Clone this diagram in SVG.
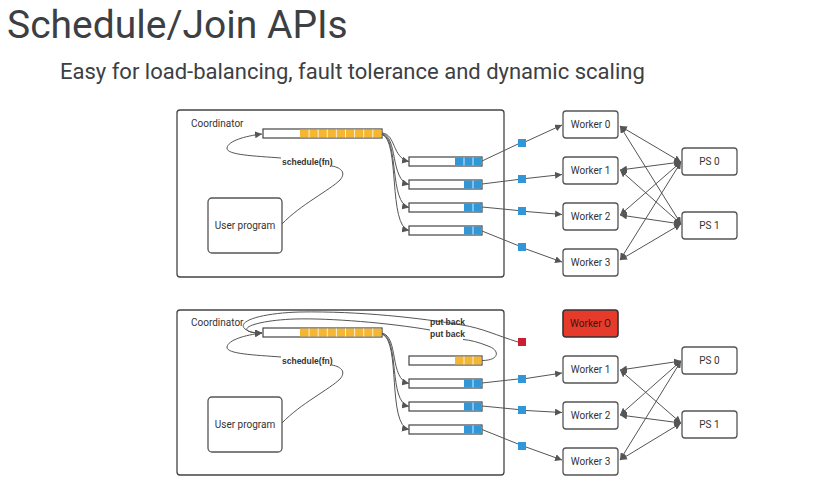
<svg xmlns="http://www.w3.org/2000/svg" width="814" height="498" viewBox="0 0 814 498">
<defs>
<marker id="ah" viewBox="0 0 10 10" refX="10" refY="5" markerWidth="7" markerHeight="7" markerUnits="userSpaceOnUse" orient="auto-start-reverse">
<path d="M0,0 L10,5 L0,10 z" fill="#555"/>
</marker>
<style>
.box{fill:#fff;stroke:#555;stroke-width:1.3}
.cont{fill:#fff;stroke:#444;stroke-width:1.3}
.q{fill:#fff;stroke:#444;stroke-width:1.2}
.or{fill:#f5b731}
.bl{fill:#3097d8}
.div{stroke:#fff;stroke-width:0.8}
.ln{fill:none;stroke:#555;stroke-width:1}
.arr{fill:none;stroke:#555;stroke-width:1;marker-end:url(#ah)}
.dbl{fill:none;stroke:#555;stroke-width:1;marker-end:url(#ah);marker-start:url(#ah)}
.t{font-family:Roboto,"Liberation Sans",sans-serif;font-size:10px;fill:#333}
.tc{font-family:Roboto,"Liberation Sans",sans-serif;font-size:10px;fill:#333;text-anchor:middle}
.tb{font-family:"Liberation Sans",Arial,sans-serif;font-size:8.5px;font-weight:bold;fill:#333}
.sq{fill:#3097d8}
</style>
</defs>
<rect width="814" height="498" fill="#fff"/>
<text x="7" y="38" font-family="Roboto,'Liberation Sans',sans-serif" font-size="39" fill="#3c4043">Schedule/Join APIs</text>
<text x="60" y="79" font-family="Roboto,'Liberation Sans',sans-serif" font-size="22" fill="#3c4043">Easy for load-balancing, fault tolerance and dynamic scaling</text>

<!-- TOP PANEL -->
<g id="coordinator-top">
<rect class="cont" x="177" y="110" width="327" height="167" rx="3"/>
<text class="t" x="191" y="127">Coordinator</text>
</g>
<g id="main-queue-top">
<rect class="q" x="263" y="129" width="119" height="9"/>
<rect class="or" x="300" y="129.6" width="81.4" height="7.8"/>
<path class="div" d="M309.1,129.6v7.8M318.2,129.6v7.8M327.3,129.6v7.8M336.4,129.6v7.8M345.5,129.6v7.8M354.6,129.6v7.8M363.7,129.6v7.8M372.8,129.6v7.8"/>
</g>
<g id="wq0-top">
<rect class="q" x="409" y="157" width="73" height="9"/>
<rect class="bl" x="455" y="157.6" width="26.4" height="7.8"/>
<path class="div" d="M464,157.6v7.8M473,157.6v7.8"/>
</g>
<g id="wq1-top">
<rect class="q" x="409" y="180" width="73" height="9"/>
<rect class="bl" x="464" y="180.6" width="17.4" height="7.8"/>
<path class="div" d="M473,180.6v7.8"/>
</g>
<g id="wq2-top">
<rect class="q" x="409" y="203" width="73" height="9"/>
<rect class="bl" x="464" y="203.6" width="17.4" height="7.8"/>
<path class="div" d="M473,203.6v7.8"/>
</g>
<g id="wq3-top">
<rect class="q" x="409" y="226" width="73" height="9"/>
<rect class="bl" x="464" y="226.6" width="17.4" height="7.8"/>
<path class="div" d="M473,226.6v7.8"/>
</g>
<g id="user-top">
<rect class="box" x="208" y="198" width="74" height="55" rx="4"/>
<text class="tc" x="245" y="228.5">User program</text>
</g>
<g id="worker0-top"><rect class="box" x="563" y="111" width="55" height="27" rx="3"/><text class="tc" x="590.5" y="128">Worker 0</text></g>
<g id="worker1-top"><rect class="box" x="563" y="157" width="55" height="27" rx="3"/><text class="tc" x="590.5" y="174">Worker 1</text></g>
<g id="worker2-top"><rect class="box" x="563" y="203" width="55" height="27" rx="3"/><text class="tc" x="590.5" y="220">Worker 2</text></g>
<g id="worker3-top"><rect class="box" x="563" y="249" width="55" height="27" rx="3"/><text class="tc" x="590.5" y="266">Worker 3</text></g>
<g id="ps0-top"><rect class="box" x="682" y="148" width="55" height="27" rx="3"/><text class="tc" x="709.5" y="165">PS 0</text></g>
<g id="ps1-top"><rect class="box" x="682" y="212" width="55" height="27" rx="3"/><text class="tc" x="709.5" y="229">PS 1</text></g>
<g id="tasks-top">
<rect class="sq" x="518" y="139" width="8" height="8"/>
<rect class="sq" x="518" y="175" width="8" height="8"/>
<rect class="sq" x="518" y="207" width="8" height="8"/>
<rect class="sq" x="518" y="243" width="8" height="8"/>
</g>

<g id="connectors-top">
<path class="ln" d="M282,224 C300,205 330,190 340,180 C346,173 342,168 332,166"/>
<text class="tb" x="282" y="165">schedule(fn)</text>
<path class="arr" d="M281,158 C255,156 226,155 227,148 C228,141 245,136 262,134"/>
<path class="arr" d="M382,133 C396,134 392,158 409,161.5"/>
<path class="arr" d="M382,133.5 C398,136 390,180 409,184.5"/>
<path class="arr" d="M382,134 C399,138 389,203 409,207.5"/>
<path class="arr" d="M382,134.5 C400,140 388,226 409,230.5"/>
<path class="ln" d="M482,161 L518,144"/><path class="arr" d="M526,141.5 L562,125"/>
<path class="ln" d="M482,184 L518,179.5"/><path class="arr" d="M526,178.5 L562,174.5"/>
<path class="ln" d="M482,207 L518,210.5"/><path class="arr" d="M526,211.5 L562,214.5"/>
<path class="ln" d="M482,231 L518,245.5"/><path class="arr" d="M526,249 L562,262"/>
<path class="dbl" d="M620,126 L681,162"/>
<path class="dbl" d="M620,126 L681,224"/>
<path class="dbl" d="M620,170 L681,162"/>
<path class="dbl" d="M620,170 L681,224"/>
<path class="dbl" d="M620,215 L681,162"/>
<path class="dbl" d="M620,215 L681,224"/>
<path class="dbl" d="M620,260 L681,162"/>
<path class="dbl" d="M620,260 L681,224"/>
</g>

<!-- BOTTOM PANEL -->
<g id="coordinator-bottom">
<rect class="cont" x="177" y="310" width="327" height="165" rx="3"/>
<text class="t" x="191" y="326">Coordinator</text>
</g>
<g id="main-queue-bottom">
<rect class="q" x="263" y="328" width="119" height="9"/>
<rect class="or" x="300" y="328.6" width="81.4" height="7.8"/>
<path class="div" d="M309.1,328.6v7.8M318.2,328.6v7.8M327.3,328.6v7.8M336.4,328.6v7.8M345.5,328.6v7.8M354.6,328.6v7.8M363.7,328.6v7.8M372.8,328.6v7.8"/>
</g>
<g id="wq0-bottom">
<rect class="q" x="409" y="356" width="73" height="9"/>
<rect class="or" x="455" y="356.6" width="26.4" height="7.8"/>
<path class="div" d="M464,356.6v7.8M473,356.6v7.8"/>
</g>
<g id="wq1-bottom">
<rect class="q" x="409" y="379" width="73" height="9"/>
<rect class="bl" x="464" y="379.6" width="17.4" height="7.8"/>
<path class="div" d="M473,379.6v7.8"/>
</g>
<g id="wq2-bottom">
<rect class="q" x="409" y="402" width="73" height="9"/>
<rect class="bl" x="464" y="402.6" width="17.4" height="7.8"/>
<path class="div" d="M473,402.6v7.8"/>
</g>
<g id="wq3-bottom">
<rect class="q" x="409" y="425" width="73" height="9"/>
<rect class="bl" x="464" y="425.6" width="17.4" height="7.8"/>
<path class="div" d="M473,425.6v7.8"/>
</g>
<g id="user-bottom">
<rect class="box" x="208" y="397" width="74" height="55" rx="4"/>
<text class="tc" x="245" y="427.5">User program</text>
</g>
<g id="worker0-bottom"><rect x="563" y="310" width="55" height="27" rx="3" fill="#e63b2b" stroke="#333" stroke-width="1.6"/><text class="tc" x="590.5" y="327" style="fill:#3a1512">Worker O</text></g>
<g id="worker1-bottom"><rect class="box" x="563" y="356" width="55" height="27" rx="3"/><text class="tc" x="590.5" y="373">Worker 1</text></g>
<g id="worker2-bottom"><rect class="box" x="563" y="402" width="55" height="27" rx="3"/><text class="tc" x="590.5" y="419">Worker 2</text></g>
<g id="worker3-bottom"><rect class="box" x="563" y="448" width="55" height="27" rx="3"/><text class="tc" x="590.5" y="465">Worker 3</text></g>
<g id="ps0-bottom"><rect class="box" x="682" y="347" width="55" height="27" rx="3"/><text class="tc" x="709.5" y="364">PS 0</text></g>
<g id="ps1-bottom"><rect class="box" x="682" y="411" width="55" height="27" rx="3"/><text class="tc" x="709.5" y="428">PS 1</text></g>
<g id="tasks-bottom">
<rect x="518" y="338" width="8" height="8" fill="#c8202f"/>
<rect class="sq" x="518" y="375" width="8" height="8"/>
<rect class="sq" x="518" y="406" width="8" height="8"/>
<rect class="sq" x="518" y="442" width="8" height="8"/>
</g>

<g id="connectors-bottom">
<path class="ln" d="M282,423 C300,404 330,389 340,379 C346,372 342,367 332,365"/>
<text class="tb" x="282" y="364">schedule(fn)</text>
<path class="arr" d="M281,357 C255,355 226,354 227,347 C228,340 245,335 262,333"/>
<path class="arr" d="M382,333 C399,337 389,379 409,383.5"/>
<path class="arr" d="M382,333.5 C400,339 388,402 409,406.5"/>
<path class="arr" d="M382,334 C401,341 387,425 409,429.5"/>
<path class="arr" d="M518,342 C498,336 482,328 462,325 C420,318 360,311 300,312 C262,313 236,321 245,329 C249,332 254,333 262,333"/>
<text class="tb" x="430" y="325">put back</text>
<path class="ln" d="M482,360.5 C500,360.5 500,350 488,346 C478,342 470,340 463,339.5"/>
<path class="arr" d="M430,330 C390,323 330,318 295,319 C265,320 241,326 248,331 C252,333 256,333 262,333"/>
<text class="tb" x="430" y="337">put back</text>
<path class="ln" d="M482,383 L518,379"/><path class="arr" d="M526,378.5 L562,373"/>
<path class="ln" d="M482,406 L518,409.5"/><path class="arr" d="M526,410.5 L562,412.5"/>
<path class="ln" d="M482,429.5 L518,444"/><path class="arr" d="M526,447 L562,460"/>
<path class="dbl" d="M620,370 L681,361"/>
<path class="dbl" d="M620,370 L681,423"/>
<path class="dbl" d="M620,415 L681,361"/>
<path class="dbl" d="M620,415 L681,423"/>
<path class="dbl" d="M620,460 L681,361"/>
<path class="dbl" d="M620,460 L681,423"/>
</g>
</svg>
